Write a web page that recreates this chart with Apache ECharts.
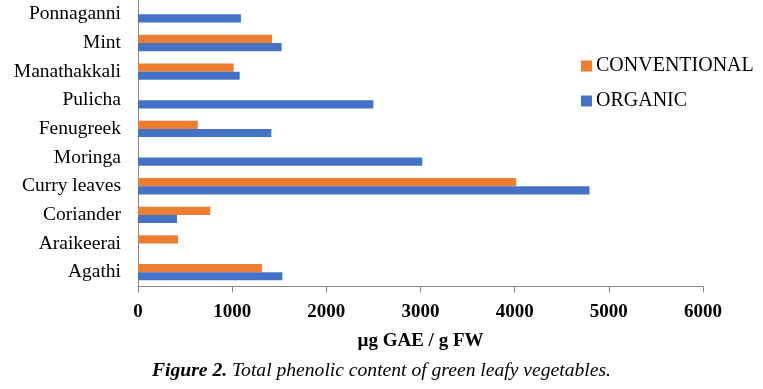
<!DOCTYPE html>
<html>
<head>
<meta charset="utf-8">
<script src="https://cdn.jsdelivr.net/npm/echarts@6/dist/echarts.min.js"></script>
<style>html,body{margin:0;padding:0;background:#fff;}#c{width:763px;height:389px;}</style>
</head>
<body>
<div id="c"></div>
<script>
var categories = ['Agathi', 'Araikeerai', 'Coriander', 'Curry leaves', 'Moringa', 'Fenugreek', 'Pulicha', 'Manathakkali', 'Mint', 'Ponnaganni'];
var organic = [1533, null, 414, 4795, 3019, 1416, 2500, 1080, 1525, 1093];
var conventional = [1316, 425, 768, 4017, null, 634, null, 1016, 1423, null];
var xTicks = [0, 6000, 1000];
var seriesNames = ['CONVENTIONAL', 'ORGANIC'];
var axisTitle = 'µg GAE / g FW';
var captionBold = 'Figure 2.';
var captionRest = ' Total phenolic content of green leafy vegetables.';

var FONT = '"Liberation Serif", "Times New Roman", serif';
var chart = echarts.init(document.getElementById('c'), null, {renderer: 'canvas'});
chart.setOption({
  animation: false,
  backgroundColor: '#ffffff',
  grid: {left: 138, right: 60, top: -3, bottom: 102.5, containLabel: false},
  legend: {
    orient: 'vertical', left: 576, top: 51,
    data: seriesNames,
    itemWidth: 11, itemHeight: 11, itemGap: 15,
    icon: 'rect',
    textStyle: {fontFamily: FONT, fontSize: 20, color: '#000', padding: [0, 0, 0, -1]}
  },
  xAxis: {
    type: 'value', min: xTicks[0], max: xTicks[1], interval: xTicks[2],
    splitLine: {show: false},
    axisLine: {show: true, lineStyle: {color: '#868686', width: 1}},
    axisTick: {show: true, length: 6, lineStyle: {color: '#868686'}},
    axisLabel: {fontFamily: FONT, fontSize: 19, fontWeight: 'bold', color: '#000', margin: 16,
      formatter: function (v) { return String(v); }},
    name: axisTitle, nameLocation: 'middle', nameGap: 45,
    nameTextStyle: {fontFamily: FONT, fontSize: 19, fontWeight: 'bold', color: '#000'}
  },
  yAxis: {
    type: 'category', data: categories,
    axisLine: {show: true, lineStyle: {color: '#868686', width: 1}},
    axisTick: {show: false},
    axisLabel: {fontFamily: FONT, fontSize: 19.5, color: '#000', margin: 17}
  },
  series: [
    {name: seriesNames[0], type: 'bar', data: conventional, itemStyle: {color: '#ED7D31'}, barGap: '0%', barCategoryGap: '43%'},
    {name: seriesNames[1], type: 'bar', data: organic, itemStyle: {color: '#4472C4'}, barGap: '0%', barCategoryGap: '43%'}
  ],
  graphic: [{
    type: 'text', left: 152, top: 361,
    style: {
      text: '{b|' + captionBold + '}{i|' + captionRest + '}',
      rich: {
        b: {fontFamily: FONT, fontSize: 19.6, fontStyle: 'italic', fontWeight: 'bold', fill: '#000'},
        i: {fontFamily: FONT, fontSize: 19.6, fontStyle: 'italic', fill: '#000'}
      }
    }
  }]
});
</script>
</body>
</html>
